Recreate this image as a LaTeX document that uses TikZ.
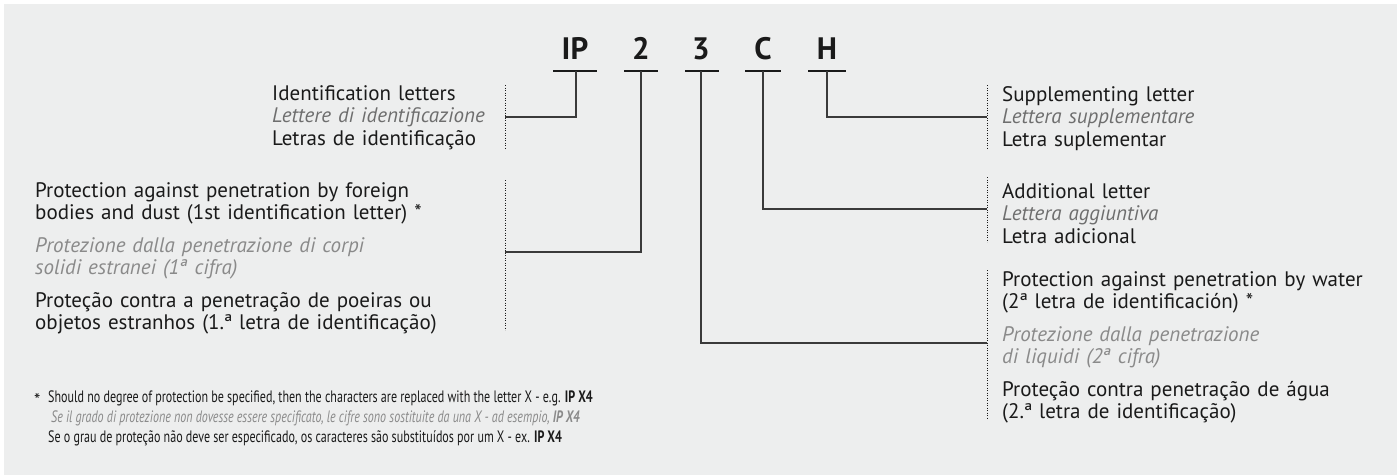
\documentclass[tikz,border=0pt]{standalone}
\usepackage{fontspec}
\setmainfont{PT Sans}
\newfontfamily\condfont[FakeStretch=0.73]{PT Sans}
\definecolor{bg}{HTML}{EDEEEE}
\definecolor{ink}{HTML}{1A1A1A}
\definecolor{itgray}{HTML}{6E6E6E}
\definecolor{itlight}{HTML}{8A8A8A}
\definecolor{linegray}{HTML}{3A3A3A}
\tikzset{
  codeletter/.style={anchor=base,inner sep=0pt,font=\fontsize{31}{31}\selectfont\bfseries,text=ink},
  barline/.style={line width=2.6pt,draw=ink},
  conn/.style={line width=1.3pt,draw=linegray},
  dotline/.style={line width=0.9pt,draw=ink,dash pattern=on 0.9pt off 1.6pt},
  txt/.style={anchor=base west,inner sep=0pt,text width=480pt,align=left,text=ink,
    font=\fontsize{21}{22.5}\selectfont},
  foot/.style={anchor=base west,inner sep=0pt,text=ink,font=\condfont\fontsize{16.5}{21}\selectfont},
}
\newcommand{\itl}[1]{{\color{itgray}\itshape #1}}
\newcommand{\itk}[1]{{\color{itlight}\itshape #1}}
\begin{document}
\begin{tikzpicture}[x=1pt,y=-1pt]
\fill[white] (0,0) rectangle (1397,475);
\fill[bg] (4,4) rectangle (1397,475);
\useasboundingbox (0,0) rectangle (1397,475);

% code letters
\node[codeletter] (ip) at (575,59) {IP};
\node[codeletter] (two) at (641,59) {2};
\node[codeletter] (three) at (701,59) {3};
\node[codeletter] (cc) at (763,59) {C};
\node[codeletter] (hh) at (827,59) {H};

\draw[barline] (553,71) -- (597,71);
\draw[barline] (624,71) -- (658,71);
\draw[barline] (685,71) -- (719,71);
\draw[barline] (745,71) -- (781,71);
\draw[barline] (808,71) -- (846,71);

\coordinate (ipb) at (576,71);
\coordinate (twob) at (641,71);
\coordinate (threeb) at (701,71);
\coordinate (ccb) at (763,71);
\coordinate (hhb) at (827,71);

% dotted brackets
\coordinate (d1t) at (505,85);  \coordinate (d1b) at (505,148); \coordinate (d1m) at (505,117);
\coordinate (d2t) at (505,180); \coordinate (d2b) at (505,330); \coordinate (d2m) at (505,252);
\coordinate (d3t) at (987,270); \coordinate (d3b) at (987,418); \coordinate (d3m) at (987,343);
\coordinate (d4t) at (987,177); \coordinate (d4b) at (987,242); \coordinate (d4m) at (987,209);
\coordinate (d5t) at (987,85);  \coordinate (d5b) at (987,148); \coordinate (d5m) at (987,117);
\foreach \d in {d1,d2,d3,d4,d5} \draw[dotline] (\d t) -- (\d b);

% connectors
\draw[conn] (ipb) |- (d1m);
\draw[conn] (twob) |- (d2m);
\draw[conn] (threeb) |- (d3m);
\draw[conn] (ccb) |- (d4m);
\draw[conn] (hhb) |- (d5m);

% text blocks
\node[txt] (t1) at (272,100) {Identification letters\\ \itl{Lettere di identificazione}\\ Letras de identificação};
\node[txt] (t2) at (35,197) {Protection against penetration by foreign\\ bodies and dust (1st identification letter) *\\[10pt]
  \itk{Protezione dalla penetrazione di corpi\\ solidi estranei (1ª cifra)}\\[10pt]
  Proteção contra a penetração de poeiras ou\\ objetos estranhos (1.ª letra de identificação)};
\node[txt] (t3) at (1002,286) {Protection against penetration by water\\ (2ª letra de identificación) *\\[10pt]
  \itk{Protezione dalla penetrazione\\ di liquidi (2ª cifra)}\\[10pt]
  Proteção contra penetração de água\\ (2.ª letra de identificação)};
\node[txt] (t4) at (1002,198) {Additional letter\\ \itl{Lettera aggiuntiva}\\ Letra adicional};
\node[txt] (t5) at (1002,101) {Supplementing letter\\ \itl{Lettera supplementare}\\ Letra suplementar};

% footnote
\node[anchor=base west,inner sep=0pt,text=ink,font=\fontsize{18}{18}\selectfont] (fstar) at (34,406) {*};
\node[foot] (f1) at (48,402) {Should no degree of protection be specified, then the characters are replaced with the letter X - e.g. \textbf{IP X4}};
\node[foot,text=itlight] (f2) at (51,422) {\itshape Se il grado di protezione non dovesse essere specificato, le cifre sono sostituite da una X - ad esempio, \textbf{IP X4}};
\node[foot] (f3) at (48,442) {Se o grau de proteção não deve ser especificado, os caracteres são substituídos por um X - ex. \textbf{IP X4}};
\end{tikzpicture}
\end{document}
